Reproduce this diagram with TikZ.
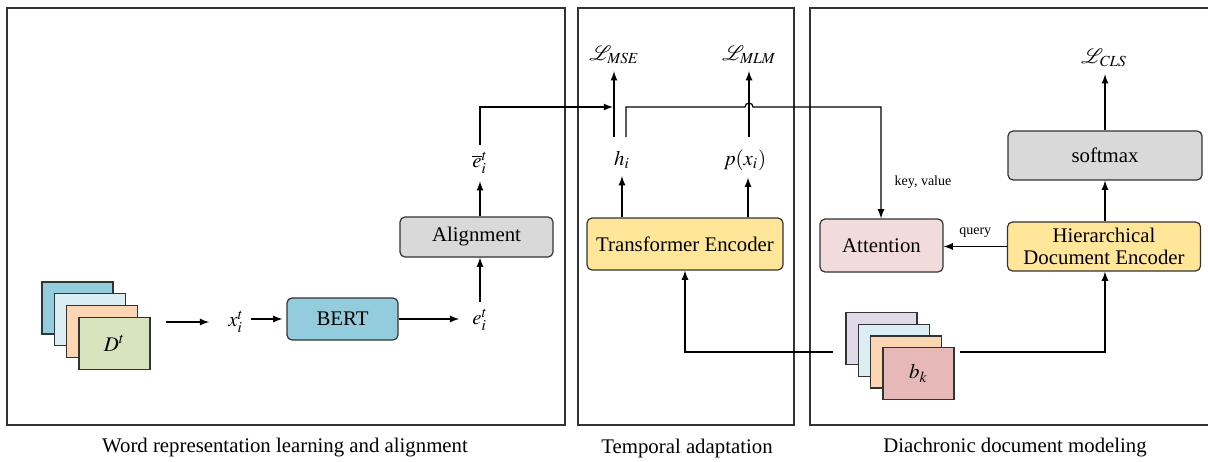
\documentclass[tikz,border=0pt]{standalone}
\usepackage{mathptmx}
\usepackage{fontspec}
\setmainfont{Liberation Serif}
\usetikzlibrary{positioning}
\usetikzlibrary{arrows}
\usetikzlibrary{calc}

\definecolor{cbert}{HTML}{93CDDD}
\definecolor{clblue}{HTML}{DBEEF4}
\definecolor{cpeach}{HTML}{FCD5B5}
\definecolor{cgreen}{HTML}{D7E4BD}
\definecolor{clav}{HTML}{E0DAE8}
\definecolor{cpink}{HTML}{E6B9B8}
\definecolor{cgray}{HTML}{D9D9D9}
\definecolor{cyellow}{HTML}{FFE699}
\definecolor{catt}{HTML}{F2DCDB}

\begin{document}
\begin{tikzpicture}[x=0.5pt,y=-0.5pt,line width=0.6pt,
    every node/.style={font=\fontsize{10.4}{12}\selectfont},
    box/.style={draw=black!80, rounded corners=2.5pt, align=center, inner sep=0pt},
    sheet/.style={draw=black!80, minimum width=35.5pt, minimum height=26pt, inner sep=0pt},
    panel/.style={draw=black!80},
    small/.style={font=\fontsize{7}{8}\selectfont},
    arr/.style={-latex}]
 	% fix the page to the size of the reference
 	\useasboundingbox (0,0) rectangle (1208,461);

 	% the three panels
 	\draw[panel] (7,8) rectangle (565,425);
 	\draw[panel] (578,8) rectangle (794,425);
 	\draw[panel] (1208,8) -- (810,8) -- (810,425) -- (1208,425);
 	\node at (285,448) {Word representation learning and alignment};
 	\node at (687,448) {Temporal adaptation};
 	\node at (1015,448) {Diachronic document modeling};

 	% stack of documents
 	\foreach \i/\c in {0/cbert,1/clblue,2/cpeach,3/cgreen}
 	    {\node[sheet, fill=\c] (d\i) at (77.5+12.3*\i, 308+11.7*\i) {};}
 	\node at (d3) {$D^t$};

 	% left panel
 	\node (xit) at (236,322) {$x_i^t$};
 	\node[box, fill=cbert, minimum width=55.5pt, minimum height=21pt] (bert) at (342.5,319) {BERT};
 	\node (eit) at (480,320) {$e_i^t$};
 	\node[box, fill=cgray, minimum width=76.5pt, minimum height=20pt] (align) at (476.5,237) {Alignment};
 	\node (ebar) at (480,163) {$\overline{e}_i^t$};

 	\draw[arr, shorten <=7.5pt, shorten >=6pt] (d3.east |- xit) -- (xit.west);
 	\draw[arr, shorten >=2pt] (xit.east |- bert) -- (bert.west);
 	\draw[arr, shorten >=3pt] (bert.east) -- (bert.east -| eit.west);
 	\draw[arr] (eit.north) -- (align.south -| eit);
 	\draw[arr] (align.north -| ebar) -- (ebar.south);

 	% middle panel
 	\node[box, fill=cyellow, minimum width=98pt, minimum height=26pt] (te) at (685,244) {Transformer Encoder};
 	\node (hi) at (622,160) {$h_i$};
 	\node (pxi) at (745,160) {$p(x_i)$};
 	\node (lmse) at (614,55) {$\mathcal{L}_{\mathit{MSE}}$};
 	\node (lmlm) at (749,55) {$\mathcal{L}_{\mathit{MLM}}$};

 	\draw[arr] (te.north -| hi) -- (hi.south);
 	\draw[arr] (te.north -| 748,0) -- (pxi.south -| 748,0);
 	\coordinate (mse) at (614,137);
 	\coordinate (mlm) at (749,137);
 	\coordinate (hout) at (626,137);
 	\draw[arr] (mse) -- (lmse.south -| mse);
 	\draw[arr] (mlm) -- (lmlm.south -| mlm);
 	\draw[arr] (ebar.north) |- (613,107);

 	% right panel
 	\node[box, fill=catt, minimum width=61.5pt, minimum height=26.5pt] (att) at (881.5,245.5) {Attention};
 	\node[box, fill=cyellow, minimum width=96.5pt, minimum height=24.5pt] (hde) at (1104,246.5) {Hierarchical\\[-1pt]Document Encoder};
 	\node[box, fill=cgray, minimum width=97pt, minimum height=24.5pt] (soft) at (1105,155.5) {softmax};
 	\node (lcls) at (1104,58) {$\mathcal{L}_{\mathit{CLS}}$};
 	\foreach \i/\c in {0/clav,1/clblue,2/cpeach,3/cpink}
 	    {\node[sheet, fill=\c] (b\i) at (881.5+12.3*\i, 338.5+11.7*\i) {};}
 	\node at (b3) {$b_k$};

 	\draw[arr] (hde.west) -- (hde.west -| att.east) node[small, midway, above=1pt] {query};
 	\draw[arr] (hde.north -| soft) -- (soft.south);
 	\draw[arr] (soft.north) -- (soft.north |- lcls.south);
 	\node[small] at (923,182) {key, value};

 	% h_i goes to attention, hopping over the MLM arrow
 	\draw[arr] (hout) -- (626,107) -- (745,107) arc (180:360:4) -- (881,107) -- (att.north -| 881,0);
 	% sentences feed both encoders
 	\draw[arr] (833,352) -| (te.south);
 	\draw[arr] (960,352) -| (hde.south -| soft);
\end{tikzpicture}
\end{document}
